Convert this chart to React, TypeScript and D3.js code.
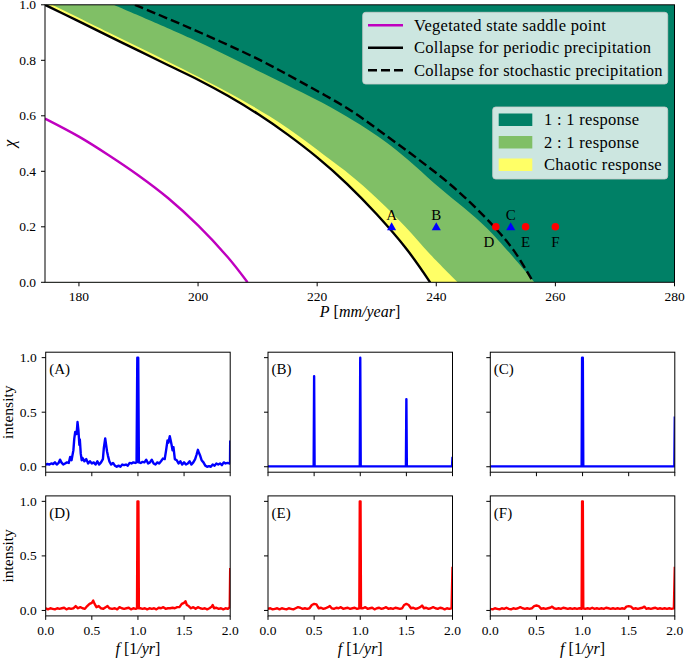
import React from "react";
import * as d3 from "d3";

// ---------- data: top panel ----------
const P_MIN = 174.3;
const P_MAX = 280;
const xTicksTop = [180, 200, 220, 240, 260, 280];
const yTicksTop = [0, 0.2, 0.4, 0.6, 0.8, 1.0];

const saddleCurve: [number, number][] = [
  [174.3, 0.59], [180, 0.525], [185, 0.458], [190, 0.385], [195, 0.303],
  [200, 0.205], [205, 0.09], [208.3, 0.0],
];
const collapsePeriodic: [number, number][] = [
  [174.3, 1.0], [180, 0.94], [185, 0.887], [190, 0.835], [195, 0.782],
  [200, 0.73], [205, 0.672], [210, 0.607], [215, 0.533], [220, 0.45],
  [225, 0.355], [230, 0.245], [235, 0.12], [238.97, 0.0],
];
const collapseStochastic: [number, number][] = [
  [189.4, 1.0], [198.65, 0.916], [210, 0.805], [217, 0.725], [225.5, 0.621],
  [232.2, 0.519], [237.5, 0.435], [243.3, 0.335], [249.5, 0.205], [253, 0.115], [256.3, 0.0],
];
const chaoticBoundary: [number, number][] = [
  [175.5, 1.0], [185, 0.9], [195, 0.795], [205, 0.685], [212, 0.598],
  [218, 0.51], [222, 0.445], [225.5, 0.388], [228.5, 0.333], [231.5, 0.272],
  [234.8, 0.2], [239, 0.1], [243.6, 0.0],
];
const twoOneBoundary: [number, number][] = [
  [185.8, 1.0], [198.65, 0.88], [211, 0.752], [223.8, 0.612], [232.2, 0.495],
  [240.6, 0.34], [248.5, 0.195], [256.5, 0.0],
];
const samplePoints = [
  { label: "A", P: 232.5, chi: 0.2, kind: "tri", labelPos: "above" },
  { label: "B", P: 240, chi: 0.2, kind: "tri", labelPos: "above" },
  { label: "C", P: 252.5, chi: 0.2, kind: "tri", labelPos: "above" },
  { label: "D", P: 250, chi: 0.2, kind: "dot", labelPos: "below" },
  { label: "E", P: 255, chi: 0.2, kind: "dot", labelPos: "below" },
  { label: "F", P: 260, chi: 0.2, kind: "dot", labelPos: "below" },
];
const lineLegend = [
  { text: "Vegetated state saddle point", color: "#bf00bf", dash: "" },
  { text: "Collapse for periodic precipitation", color: "#000000", dash: "" },
  { text: "Collapse for stochastic precipitation", color: "#000000", dash: "9,4" },
];
const regionLegend = [
  { text: "1 : 1 response", color: "#008066" },
  { text: "2 : 1 response", color: "#80bf66" },
  { text: "Chaotic response", color: "#ffff66" },
];

// ---------- data: spectra ----------
const fTicks = [0, 0.5, 1.0, 1.5, 2.0];
const iTicks = [0, 0.5, 1.0];

const specA: [number, number][] = [
  [0.00,0.02],[0.02,0.025],[0.04,0.02],[0.06,0.03],[0.08,0.025],[0.10,0.04],[0.12,0.02],[0.14,0.035],
  [0.155,0.065],[0.17,0.04],[0.19,0.02],[0.21,0.03],[0.23,0.04],[0.25,0.035],[0.265,0.09],[0.28,0.06],
  [0.30,0.15],[0.31,0.26],[0.32,0.32],[0.335,0.30],[0.345,0.41],[0.355,0.33],[0.365,0.2],[0.37,0.25],
  [0.38,0.12],[0.39,0.06],[0.40,0.08],[0.42,0.05],[0.44,0.07],[0.46,0.03],[0.48,0.05],[0.50,0.03],
  [0.52,0.04],[0.54,0.02],[0.56,0.05],[0.58,0.02],[0.60,0.04],[0.62,0.07],[0.63,0.17],[0.645,0.26],
  [0.655,0.2],[0.665,0.14],[0.675,0.10],[0.69,0.05],[0.71,0.02],[0.73,0.035],[0.75,0.01],[0.77,0.0],
  [0.79,0.01],[0.81,0.0],[0.83,0.02],[0.85,0.015],[0.87,0.02],[0.89,0.01],[0.91,0.035],[0.93,0.03],
  [0.95,0.04],[0.97,0.035],[0.985,0.04],[0.993,1.0],[1.003,1.0],[1.01,0.04],[1.03,0.035],[1.05,0.045],
  [1.07,0.04],[1.09,0.065],[1.11,0.03],[1.13,0.04],[1.15,0.065],[1.17,0.03],[1.19,0.02],[1.21,0.04],
  [1.23,0.03],[1.25,0.05],[1.27,0.075],[1.29,0.07],[1.305,0.15],[1.32,0.24],[1.33,0.22],[1.345,0.28],
  [1.355,0.24],[1.365,0.2],[1.375,0.15],[1.385,0.18],[1.40,0.07],[1.42,0.06],[1.44,0.03],[1.46,0.05],
  [1.48,0.02],[1.50,0.04],[1.52,0.02],[1.54,0.03],[1.56,0.05],[1.58,0.02],[1.60,0.04],[1.62,0.07],
  [1.635,0.11],[1.65,0.155],[1.66,0.13],[1.675,0.10],[1.69,0.06],[1.71,0.04],[1.73,0.01],[1.75,0.0],
  [1.77,0.005],[1.79,0.0],[1.81,0.02],[1.83,0.01],[1.85,0.03],[1.87,0.02],[1.89,0.03],[1.91,0.015],
  [1.93,0.04],[1.95,0.03],[1.97,0.035],[1.99,0.03],[1.998,0.04],[2.0,0.24],
];
const specB: [number, number][] = [
  [0,0.003],[0.495,0.003],[0.5,0.83],[0.505,0.003],[0.995,0.003],[1.0,1.0],[1.005,0.003],
  [1.495,0.003],[1.5,0.62],[1.505,0.003],[1.995,0.003],[2.0,0.09],
];
const specC: [number, number][] = [
  [0,0.003],[0.99,0.003],[0.995,1.0],[1.003,1.0],[1.008,0.003],[1.995,0.003],[2.0,0.46],
];
const specD: [number, number][] = [
  [0,0.02],[0.025,0.01],[0.05,0.02],[0.075,0.015],[0.1,0.01],[0.125,0.02],[0.15,0.015],[0.175,0.02],
  [0.2,0.025],[0.225,0.01],[0.25,0.02],[0.275,0.015],[0.3,0.02],[0.325,0.04],[0.35,0.02],[0.375,0.03],
  [0.4,0.02],[0.425,0.015],[0.45,0.04],[0.475,0.06],[0.5,0.07],[0.515,0.09],[0.53,0.06],[0.55,0.03],
  [0.575,0.04],[0.6,0.02],[0.625,0.015],[0.65,0.03],[0.67,0.04],[0.69,0.02],[0.72,0.015],[0.75,0.02],
  [0.775,0.01],[0.8,0.03],[0.825,0.02],[0.85,0.015],[0.875,0.02],[0.9,0.025],[0.925,0.01],[0.95,0.02],
  [0.975,0.015],[0.99,0.02],[0.995,1.0],[1.005,1.0],[1.01,0.02],[1.025,0.02],[1.05,0.015],[1.075,0.02],
  [1.1,0.01],[1.125,0.02],[1.15,0.015],[1.175,0.02],[1.2,0.01],[1.225,0.025],[1.25,0.02],[1.275,0.03],
  [1.3,0.015],[1.325,0.02],[1.35,0.02],[1.375,0.025],[1.4,0.02],[1.425,0.03],[1.45,0.03],[1.475,0.06],
  [1.5,0.07],[1.515,0.085],[1.53,0.05],[1.55,0.04],[1.575,0.02],[1.6,0.03],[1.625,0.015],[1.65,0.03],
  [1.675,0.02],[1.7,0.015],[1.725,0.02],[1.75,0.01],[1.775,0.02],[1.8,0.035],[1.81,0.05],[1.825,0.02],
  [1.85,0.025],[1.875,0.015],[1.9,0.02],[1.925,0.01],[1.95,0.02],[1.975,0.015],[1.995,0.03],[2.0,0.39],
];
const specE: [number, number][] = [
  [0,0.015],[0.025,0.02],[0.05,0.01],[0.075,0.015],[0.1,0.02],[0.125,0.01],[0.15,0.02],[0.175,0.015],
  [0.2,0.01],[0.225,0.02],[0.25,0.015],[0.275,0.01],[0.3,0.02],[0.325,0.03],[0.35,0.025],[0.375,0.015],
  [0.4,0.02],[0.425,0.015],[0.45,0.02],[0.475,0.05],[0.5,0.06],[0.525,0.055],[0.55,0.02],[0.575,0.025],
  [0.6,0.015],[0.625,0.02],[0.65,0.03],[0.67,0.04],[0.69,0.02],[0.715,0.015],[0.74,0.025],[0.765,0.02],
  [0.79,0.03],[0.815,0.015],[0.84,0.02],[0.865,0.025],[0.89,0.015],[0.915,0.02],[0.94,0.025],[0.965,0.015],
  [0.99,0.02],[0.995,1.0],[1.003,1.0],[1.008,0.02],[1.03,0.02],[1.055,0.03],[1.08,0.015],[1.105,0.02],
  [1.13,0.025],[1.155,0.01],[1.18,0.02],[1.205,0.025],[1.23,0.015],[1.255,0.02],[1.28,0.03],[1.305,0.015],
  [1.33,0.02],[1.355,0.015],[1.38,0.025],[1.405,0.02],[1.43,0.015],[1.455,0.02],[1.475,0.05],[1.5,0.06],
  [1.525,0.05],[1.55,0.02],[1.575,0.025],[1.6,0.015],[1.625,0.02],[1.65,0.03],[1.67,0.045],[1.69,0.02],
  [1.715,0.025],[1.74,0.015],[1.765,0.02],[1.79,0.03],[1.815,0.02],[1.84,0.015],[1.865,0.025],[1.89,0.02],
  [1.915,0.01],[1.94,0.02],[1.965,0.015],[1.99,0.02],[2.0,0.4],
];
const specF: [number, number][] = [
  [0,0.015],[0.025,0.01],[0.05,0.02],[0.075,0.015],[0.1,0.01],[0.125,0.02],[0.15,0.015],[0.175,0.025],
  [0.2,0.015],[0.225,0.01],[0.25,0.02],[0.275,0.015],[0.3,0.02],[0.325,0.03],[0.35,0.02],[0.375,0.015],
  [0.4,0.02],[0.425,0.015],[0.45,0.02],[0.475,0.04],[0.5,0.045],[0.525,0.04],[0.55,0.015],[0.575,0.02],
  [0.6,0.015],[0.625,0.02],[0.65,0.025],[0.67,0.035],[0.69,0.02],[0.715,0.015],[0.74,0.02],[0.765,0.015],
  [0.79,0.025],[0.815,0.02],[0.84,0.015],[0.865,0.02],[0.89,0.015],[0.915,0.02],[0.94,0.015],[0.965,0.02],
  [0.99,0.015],[0.995,1.0],[1.003,1.0],[1.008,0.02],[1.03,0.015],[1.055,0.02],[1.08,0.015],[1.105,0.025],
  [1.13,0.015],[1.155,0.02],[1.18,0.015],[1.205,0.02],[1.23,0.015],[1.255,0.025],[1.28,0.02],[1.305,0.015],
  [1.33,0.02],[1.355,0.015],[1.38,0.02],[1.405,0.015],[1.43,0.02],[1.455,0.015],[1.475,0.035],[1.5,0.04],
  [1.525,0.035],[1.55,0.015],[1.575,0.02],[1.6,0.015],[1.625,0.02],[1.65,0.025],[1.67,0.035],[1.69,0.015],
  [1.715,0.02],[1.74,0.015],[1.765,0.02],[1.79,0.025],[1.815,0.015],[1.84,0.02],[1.865,0.015],[1.89,0.02],
  [1.915,0.015],[1.94,0.02],[1.965,0.015],[1.99,0.02],[2.0,0.4],
];
const spectra = [
  { tag: "(A)", data: specA, color: "#0000ff", row: 0, col: 0 },
  { tag: "(B)", data: specB, color: "#0000ff", row: 0, col: 1 },
  { tag: "(C)", data: specC, color: "#0000ff", row: 0, col: 2 },
  { tag: "(D)", data: specD, color: "#ff0000", row: 1, col: 0 },
  { tag: "(E)", data: specE, color: "#ff0000", row: 1, col: 1 },
  { tag: "(F)", data: specF, color: "#ff0000", row: 1, col: 2 },
];

const FONT = "'Liberation Serif', 'DejaVu Serif', serif";
const LEG_FS = 16.5;
const LEG_LS = 0.3;

function TopPanel() {
  const L = 45, R = 674.5, T = 4.8, B = 282.3;
  const x = d3.scaleLinear().domain([P_MIN, P_MAX]).range([L, R]);
  const y = d3.scaleLinear().domain([0, 1]).range([B, T]);
  const smooth = d3
    .line<[number, number]>()
    .x((d) => x(d[0]))
    .y((d) => y(d[1]))
    .curve(d3.curveCatmullRom.alpha(0.5));
  const region = (pts: [number, number][]) =>
    (smooth(pts) || "") + `L${x(P_MIN)},${y(0)}L${x(P_MIN)},${y(1)}Z`;
  const tri = d3.symbol().type(d3.symbolTriangle).size(36)();
  return (
    <g fontFamily={FONT}>
      <defs>
        <clipPath id="topclip">
          <rect x={L} y={T} width={R - L} height={B - T} />
        </clipPath>
      </defs>
      <g clipPath="url(#topclip)">
        <rect x={L} y={T} width={R - L} height={B - T} fill="#008066" />
        <path d={region(twoOneBoundary)} fill="#80bf66" />
        <path d={region(chaoticBoundary)} fill="#ffff66" />
        <path d={region(collapsePeriodic)} fill="#ffffff" />
        <path d={smooth(saddleCurve) || ""} fill="none" stroke="#bf00bf" strokeWidth={2.4} />
        <path d={smooth(collapsePeriodic) || ""} fill="none" stroke="#000" strokeWidth={2.4} />
        <path d={smooth(collapseStochastic) || ""} fill="none" stroke="#000" strokeWidth={2.4} strokeDasharray="9,4" />
        {samplePoints.map((p) => (
          <g key={p.label}>
            {p.kind === "tri" ? (
              <path d={tri || ""} transform={`translate(${x(p.P)},${y(p.chi) + 0.8})`} fill="#0000ff" />
            ) : (
              <circle cx={x(p.P)} cy={y(p.chi)} r={3.8} fill="#ff0000" />
            )}
            <text
              x={x(p.P) + (p.label === "D" ? -7 : 0)}
              y={p.labelPos === "above" ? y(p.chi) - 7 : y(p.chi) + 20}
              textAnchor="middle"
              fontSize={15}
              fill="#000"
            >
              {p.label}
            </text>
          </g>
        ))}
      </g>
      {/* legends */}
      <rect x={362.7} y={12.3} width={305} height={71.7} rx={3} fill="#ffffff" fillOpacity={0.8} stroke="#cccccc" strokeOpacity={0.8} />
      {lineLegend.map((e, i) => (
        <g key={e.text}>
          <line x1={368} x2={403} y1={25.3 + i * 22.5} y2={25.3 + i * 22.5} stroke={e.color} strokeWidth={2.4} strokeDasharray={e.dash} />
          <text x={414} y={25.3 + i * 22.5 + 5.5} fontSize={LEG_FS} letterSpacing={LEG_LS} fill="#000">{e.text}</text>
        </g>
      ))}
      <rect x={492.7} y={107} width={175} height={72} rx={3} fill="#ffffff" fillOpacity={0.8} stroke="#cccccc" strokeOpacity={0.8} />
      {regionLegend.map((e, i) => (
        <g key={e.text}>
          <rect x={498.7} y={113.5 + i * 22.5} width={33.6} height={12.5} fill={e.color} />
          <text x={544} y={119.8 + i * 22.5 + 5.5} fontSize={LEG_FS} letterSpacing={LEG_LS} fill="#000">{e.text}</text>
        </g>
      ))}
      {/* frame */}
      <rect x={L} y={T} width={R - L} height={B - T} fill="none" stroke="#000" strokeWidth={1} />
      {xTicksTop.map((t) => (
        <g key={t}>
          <line x1={x(t)} x2={x(t)} y1={B} y2={B + 4} stroke="#000" />
          <text x={x(t)} y={B + 19} textAnchor="middle" fontSize={13.5}>{t}</text>
        </g>
      ))}
      {yTicksTop.map((t) => (
        <g key={t}>
          <line x1={L - 4} x2={L} y1={y(t)} y2={y(t)} stroke="#000" />
          <text x={L - 9} y={y(t) + 4.5} textAnchor="end" fontSize={13.5}>{t.toFixed(1)}</text>
        </g>
      ))}
      <text x={360} y={317} textAnchor="middle" fontSize={16}>
        <tspan fontStyle="italic">P</tspan> [<tspan fontStyle="italic">mm/year</tspan>]
      </text>
      <text transform={`translate(15,${(T + B) / 2}) rotate(-90)`} textAnchor="middle" fontSize={17} fontStyle="italic">χ</text>
    </g>
  );
}

function SpectrumPanel({ spec }: { spec: (typeof spectra)[number] }) {
  const lefts = [45.7, 268, 490.3];
  const tops = [352.2, 495.9];
  const W = 184.5, H = 120;
  const L = lefts[spec.col], T = tops[spec.row];
  const x = d3.scaleLinear().domain([0, 2]).range([L, L + W]);
  const y = d3.scaleLinear().domain([-0.05, 1.05]).range([T + H, T]);
  const line = d3.line<[number, number]>().x((d) => x(d[0])).y((d) => y(d[1]));
  const id = `clip${spec.row}${spec.col}`;
  return (
    <g fontFamily={FONT}>
      <defs>
        <clipPath id={id}>
          <rect x={L} y={T} width={W} height={H} />
        </clipPath>
      </defs>
      <path d={line(spec.data) || ""} fill="none" stroke={spec.color} strokeWidth={2.4} strokeLinejoin="round" clipPath={`url(#${id})`} />
      <rect x={L} y={T} width={W} height={H} fill="none" stroke="#000" strokeWidth={1} />
      <text x={L + 3.5} y={T + 22} fontSize={15}>{spec.tag}</text>
      {fTicks.map((t) => (
        <g key={t}>
          <line x1={x(t)} x2={x(t)} y1={T + H} y2={T + H + 4} stroke="#000" />
          {spec.row === 1 && (
            <text x={x(t)} y={T + H + 19} textAnchor="middle" fontSize={13.5}>{t.toFixed(1)}</text>
          )}
        </g>
      ))}
      {iTicks.map((t) => (
        <g key={t}>
          <line x1={L - 4} x2={L} y1={y(t)} y2={y(t)} stroke="#000" />
          {spec.col === 0 && (
            <text x={L - 9} y={y(t) + 4.5} textAnchor="end" fontSize={13.5}>{t.toFixed(1)}</text>
          )}
        </g>
      ))}
      {spec.col === 0 && (
        <text transform={`translate(13,${T + H / 2}) rotate(-90)`} textAnchor="middle" fontSize={15.5}>intensity</text>
      )}
      {spec.row === 1 && (
        <text x={L + W / 2} y={T + H + 38} textAnchor="middle" fontSize={16}>
          <tspan fontStyle="italic">f</tspan> [1<tspan fontStyle="italic">/yr</tspan>]
        </text>
      )}
    </g>
  );
}

export default function App() {
  return (
    <svg width={685} height={659} style={{ position: "absolute", left: 0, top: 0, background: "#fff" }}>
      <rect x={0} y={0} width={685} height={659} fill="#fff" />
      <TopPanel />
      {spectra.map((s) => (
        <SpectrumPanel key={s.tag} spec={s} />
      ))}
    </svg>
  );
}
